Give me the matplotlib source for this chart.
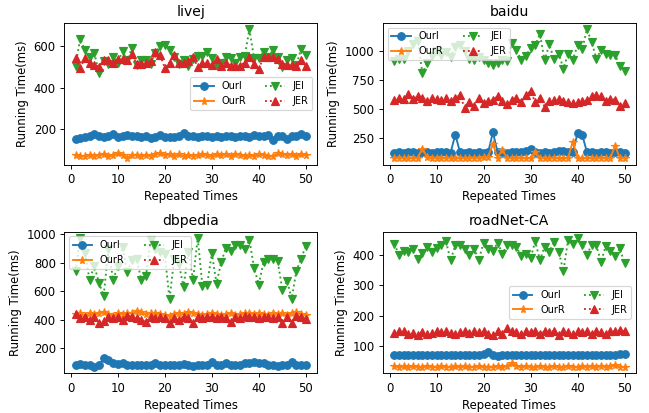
import matplotlib
matplotlib.use("Agg")
import matplotlib.pyplot as plt
import numpy as np

x = list(range(1, 51))

titles = ["livej", "baidu", "dbpedia", "roadNet-CA"]
series_names = ["OurI", "OurR", "JEI", "JER"]

livej_ouri = [155,160,165,168,178,168,165,170,175,165,168,172,170,168,162,168,158,165,172,162,
              165,164,166,182,170,166,164,168,170,165,168,163,166,170,162,166,168,164,172,166,
              168,172,150,168,170,155,166,170,175,170]
livej_ourr = [75,72,70,76,74,78,80,72,76,86,78,62,76,78,72,76,74,82,84,78,
              80,70,80,72,76,74,78,80,76,72,80,78,80,74,80,76,72,78,74,80,
              76,72,70,86,82,78,80,74,80,76]
livej_jei = [505,635,580,545,565,470,525,515,545,520,575,530,590,510,530,530,515,565,600,605,
             580,545,515,530,505,535,550,550,570,540,510,520,545,540,520,545,550,680,540,540,
             570,545,580,545,500,530,540,510,585,555]
livej_jer = [540,495,540,520,510,500,530,530,520,535,535,530,560,515,515,520,525,570,555,495,
             520,555,520,520,525,545,500,520,520,510,535,505,520,505,505,505,520,545,515,490,
             545,545,545,535,515,510,510,505,530,505]

baidu_ouri = [125,128,125,130,128,125,130,128,125,130,130,128,125,280,130,125,128,125,128,125,
              130,300,130,128,125,128,130,128,135,155,130,125,128,125,130,135,140,128,130,290,
              280,130,128,125,130,128,125,130,128,125]
baidu_ourr = [80,82,78,80,78,80,160,85,80,82,80,78,80,82,80,78,80,82,80,85,
              90,200,80,150,80,78,82,80,78,82,130,80,78,80,82,80,78,82,220,80,
              78,80,78,82,80,78,80,185,80,78]
baidu_jei = [915,930,935,1000,1060,1090,810,900,960,1000,970,990,950,1040,1050,1000,930,920,950,920,
             900,880,900,920,915,1070,1010,925,960,1025,1050,1148,920,1060,930,980,850,980,925,1050,
             1015,1190,1080,935,1010,975,965,970,870,825]
baidu_jer = [580,600,590,630,590,610,600,570,600,590,580,600,570,600,620,510,560,530,600,550,
             570,580,610,570,545,575,600,560,620,655,560,600,520,570,580,590,570,560,550,560,
             570,580,610,620,610,570,590,580,530,550]

dbpedia_ouri = [80,90,80,85,70,80,130,115,100,90,95,80,85,80,85,80,85,100,85,80,
                80,85,80,90,85,75,80,85,80,105,85,80,100,85,80,85,95,100,105,100,
                100,80,85,75,80,85,105,80,85,85]
dbpedia_ourr = [440,445,430,445,440,450,455,440,430,445,440,450,445,460,455,440,450,445,440,435,
                430,440,445,440,455,445,440,435,440,445,440,435,440,445,435,440,445,450,440,445,
                440,435,445,440,445,435,450,455,440,435]
dbpedia_jei = [740,975,870,680,780,660,570,900,680,780,910,735,820,830,680,710,960,900,880,860,
               545,830,790,630,880,680,975,640,645,870,655,808,905,885,925,925,895,960,765,648,
               808,830,825,815,613,676,549,745,831,919]
dbpedia_jer = [440,410,420,400,420,380,390,420,410,420,400,430,420,410,400,385,420,410,420,410,
               380,410,400,420,415,380,420,410,420,420,410,420,410,385,420,410,430,420,420,410,
               420,420,410,420,375,420,380,430,420,405]

road_ouri = [72,70,70,70,72,70,72,70,70,72,72,70,70,72,72,70,72,72,72,74,
             80,70,68,70,70,72,72,70,72,70,70,72,70,70,72,70,70,72,70,70,
             72,70,70,70,72,72,72,72,74,74]
road_ourr = [35,32,34,32,34,33,32,34,32,33,34,32,33,34,32,34,33,32,34,32,
             33,32,34,33,36,44,36,32,34,33,32,34,33,32,34,33,32,34,33,32,
             34,33,34,32,36,33,34,38,32,32]
road_jei = [435,400,411,409,419,385,406,425,409,421,432,443,382,430,432,419,400,419,382,439,
            417,411,439,403,430,432,425,396,403,387,443,382,425,409,441,409,346,449,435,454,
            432,398,432,430,376,428,411,396,421,371]
road_jer = [143,148,150,140,142,138,145,140,142,148,145,150,142,140,145,148,142,150,145,148,
            140,138,150,140,160,150,145,140,150,145,150,140,148,145,150,135,148,145,140,150,
            145,150,140,148,145,140,150,148,152,148]

data = [
    [livej_ouri, livej_ourr, livej_jei, livej_jer],
    [baidu_ouri, baidu_ourr, baidu_jei, baidu_jer],
    [dbpedia_ouri, dbpedia_ourr, dbpedia_jei, dbpedia_jer],
    [road_ouri, road_ourr, road_jei, road_jer],
]
legend_locs = ["center right", "upper left", "upper left", "center right"]

styles = [
    dict(color="C0", linestyle="-", marker="o", markersize=6.5),
    dict(color="C1", linestyle="-", marker="*", markersize=7),
    dict(color="C2", linestyle=":", marker="v", markersize=7),
    dict(color="C3", linestyle=":", marker="^", markersize=7),
]

DPI = 84
fig, axes = plt.subplots(2, 2, figsize=(649 / DPI, 413 / DPI), dpi=DPI)
fig.subplots_adjust(left=0.0986, right=0.98, top=0.945, bottom=0.096,
                    wspace=0.258, hspace=0.473)

for ax, title, ser, loc in zip(axes.flat, titles, data, legend_locs):
    for name, vals, st in zip(series_names, ser, styles):
        ax.plot(x, vals, label=name, linewidth=1.6, **st)
    ax.set_title(title)
    ax.set_xlabel("Repeated Times")
    ax.set_ylabel("Running Time(ms)")
    ax.legend(loc=loc, ncol=2, fontsize="small")

fig.savefig("out.png", dpi=DPI)
